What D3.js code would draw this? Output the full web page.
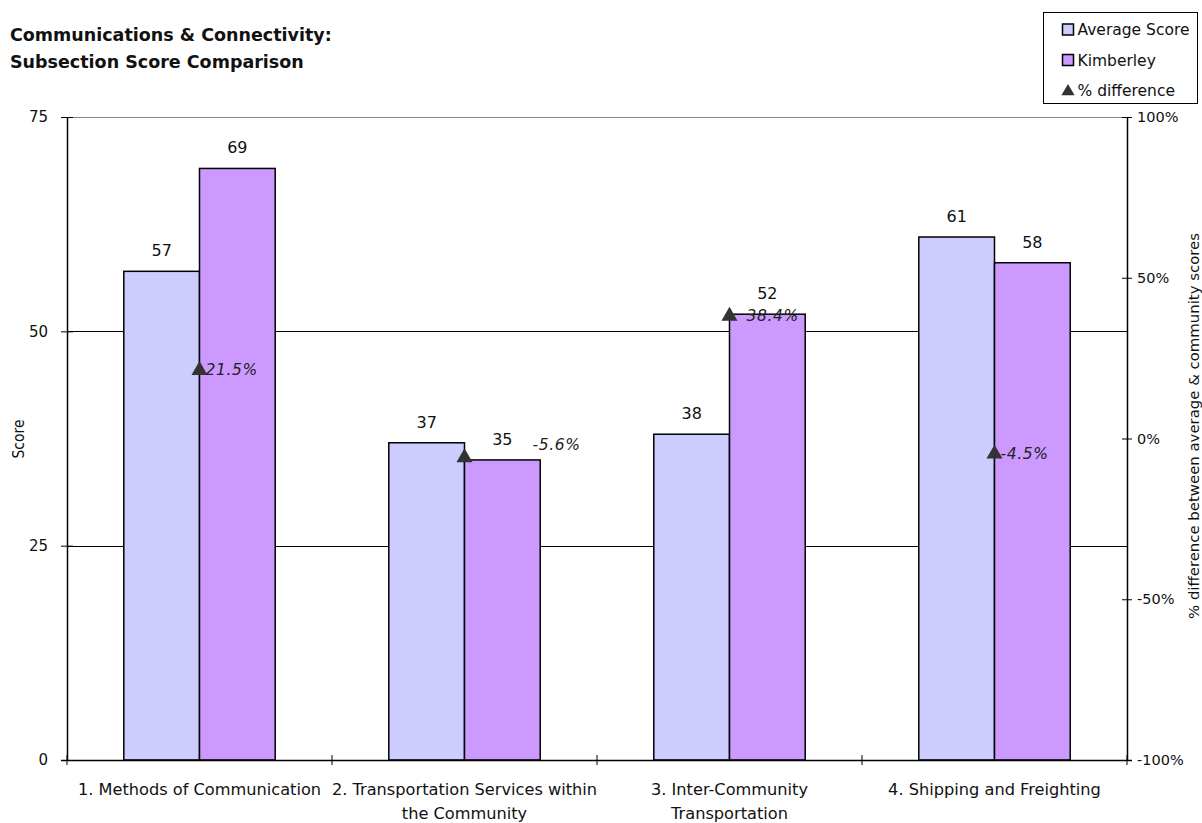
<!DOCTYPE html>
<html>
<head>
<meta charset="utf-8">
<script src="https://cdn.jsdelivr.net/npm/d3@7"></script>
<style>
  html, body { margin: 0; padding: 0; background: #fff; }
  svg { display: block; font-family: "DejaVu Sans", "Noto Sans", sans-serif; }
</style>
</head>
<body>
<svg id="chart" width="1202" height="823"></svg>
<script>
// ---- data ----
const categories = [
  "1. Methods of Communication",
  "2. Transportation Services within\nthe Community",
  "3. Inter-Community\nTransportation",
  "4. Shipping and Freighting"
];
const seriesNames = ["Average Score", "Kimberley"];
const averageScores = [57, 37, 38, 61];
const kimberleyScores = [69, 35, 52, 58];
const pctDifference = [21.5, -5.6, 38.4, -4.5];   // percent
const scoreTicks = [0, 25, 50, 75];
const pctTicks = [-1, -0.5, 0, 0.5, 1];
const titleLines = ["Communications & Connectivity:", "Subsection Score Comparison"];
const legendLabels = ["Average Score", "Kimberley", "% difference"];

// plain hyphen for negative numbers
const fmt = d3.formatLocale({ decimal: ".", thousands: ",", grouping: [3], currency: ["$", ""], minus: "-" });

// ---- layout ----
const plot = { left: 67, right: 1127, top: 117, bottom: 760 };
const svg = d3.select("#chart");

const x0 = d3.scaleBand().domain(categories).range([plot.left, plot.right]);
const x1 = d3.scaleBand().domain(seriesNames).range([0, x0.bandwidth()]).paddingOuter(0.75);
const y = d3.scaleLinear().domain([0, 75]).range([plot.bottom, plot.top]);
const y2 = d3.scaleLinear().domain([-1, 1]).range([plot.bottom, plot.top]);
const color = d3.scaleOrdinal().domain(seriesNames).range(["#ccccff", "#cc99ff"]);
const markerColor = "#333333";

// horizontal gridlines
svg.append("g").selectAll("line")
  .data(scoreTicks.filter(d => d > 0))
  .join("line")
  .attr("x1", plot.left).attr("x2", plot.right)
  .attr("y1", d => Math.round(y(d)) + 0.5).attr("y2", d => Math.round(y(d)) + 0.5)
  .attr("stroke", d => d === 75 ? "#888" : "#000")
  .attr("stroke-width", 1);

// bars
const rows = categories.map((c, i) => ({
  cat: c,
  values: [
    { s: seriesNames[0], v: averageScores[i] },
    { s: seriesNames[1], v: kimberleyScores[i] }
  ]
}));

const groups = svg.append("g").selectAll("g")
  .data(rows).join("g")
  .attr("transform", d => `translate(${x0(d.cat)},0)`);

groups.selectAll("rect")
  .data(d => d.values).join("rect")
  .attr("x", d => x1(d.s))
  .attr("y", d => y(d.v))
  .attr("width", x1.bandwidth())
  .attr("height", d => y(0) - y(d.v))
  .attr("fill", d => color(d.s))
  .attr("stroke", "#000")
  .attr("stroke-width", 1.5);

groups.selectAll("text.val")
  .data(d => d.values).join("text")
  .attr("class", "val")
  .attr("x", d => x1(d.s) + x1.bandwidth() / 2)
  .attr("y", d => y(d.v) - 15)
  .attr("text-anchor", "middle")
  .attr("font-size", 16)
  .attr("fill", "#111")
  .text(d => fmt.format(".0f")(d.v));

// left axis
const leftAxis = svg.append("g")
  .attr("transform", `translate(${plot.left},0)`)
  .call(d3.axisLeft(y).tickValues(scoreTicks).tickSize(6).tickSizeOuter(0).tickPadding(13));
leftAxis.selectAll(".tick line").attr("x1", 6);
leftAxis.selectAll("text").attr("font-size", 15).attr("fill", "#111").attr("font-family", "DejaVu Sans");
leftAxis.select(".domain").attr("stroke", "#000").attr("stroke-width", 1.5);

// right axis
const rightAxis = svg.append("g")
  .attr("transform", `translate(${plot.right},0)`)
  .call(d3.axisRight(y2).tickValues(pctTicks).tickFormat(fmt.format(".0%")).tickSize(5).tickSizeOuter(0).tickPadding(5));
rightAxis.selectAll(".tick line").attr("x1", -5);
rightAxis.selectAll("text").attr("font-size", 14.5).attr("fill", "#111").attr("font-family", "DejaVu Sans");
rightAxis.select(".domain").attr("stroke", "#000").attr("stroke-width", 1.5);

// category axis
const xAxis = svg.append("g");
xAxis.append("line")
  .attr("x1", plot.left - 6).attr("x2", plot.right + 5)
  .attr("y1", plot.bottom + 0.5).attr("y2", plot.bottom + 0.5)
  .attr("stroke", "#000").attr("stroke-width", 1.5);
xAxis.selectAll("line.tk")
  .data(categories.map(c => x0(c)).concat([plot.right]))
  .join("line").attr("class", "tk")
  .attr("x1", d => d).attr("x2", d => d)
  .attr("y1", plot.bottom - 5).attr("y2", plot.bottom + 5)
  .attr("stroke", "#000");

// category labels, one tspan per line
xAxis.selectAll("text.cat")
  .data(categories).join("text")
  .attr("class", "cat")
  .attr("text-anchor", "middle")
  .attr("font-size", 16.2)
  .attr("fill", "#111")
  .attr("y", plot.bottom + 35)
  .each(function (d) {
    const cx = x0(d) + x0.bandwidth() / 2;
    d3.select(this).selectAll("tspan")
      .data(d.split("\n")).join("tspan")
      .attr("x", cx)
      .attr("dy", (l, i) => i === 0 ? 0 : 24)
      .text(l => l);
  });

// % difference markers
const labelNudge = [[0, 0], [62, -13], [11, 0], [0, 0]];
const markers = svg.append("g");
markers.selectAll("path")
  .data(pctDifference).join("path")
  .attr("d", d3.symbol().type(d3.symbolTriangle).size(112))
  .attr("transform", (d, i) => `translate(${x0(categories[i]) + x0.bandwidth() / 2},${y2(d / 100) + 1})`)
  .attr("fill", markerColor);
markers.selectAll("text")
  .data(pctDifference).join("text")
  .attr("x", (d, i) => x0(categories[i]) + x0.bandwidth() / 2 + 6 + labelNudge[i][0])
  .attr("y", (d, i) => y2(d / 100) + 6 + labelNudge[i][1])
  .attr("font-size", 15.5)
  .attr("letter-spacing", 0.6)
  .attr("font-style", "italic")
  .attr("fill", "#222")
  .text(d => fmt.format(".1f")(d) + "%");

// axis titles
svg.append("text")
  .attr("transform", `translate(24,439) rotate(-90)`)
  .attr("text-anchor", "middle")
  .attr("font-size", 15.5)
  .attr("font-family", "DejaVu Sans Condensed, DejaVu Sans")
  .attr("fill", "#111")
  .text("Score");

svg.append("text")
  .attr("transform", `translate(1199,426) rotate(-90)`)
  .attr("text-anchor", "middle")
  .attr("font-size", 14.9)
  .attr("fill", "#111")
  .text("% difference between average & community scores");

// title
svg.append("g").selectAll("text")
  .data(titleLines).join("text")
  .attr("x", 10)
  .attr("y", (d, i) => 41 + i * 27)
  .attr("font-size", 17.5)
  .attr("font-weight", "bold")
  .attr("fill", "#111")
  .text(d => d);

// legend
const legend = svg.append("g");
legend.append("rect")
  .attr("x", 1043.5).attr("y", 12.5).attr("width", 154).attr("height", 91)
  .attr("fill", "#fff").attr("stroke", "#000").attr("stroke-width", 1);
const legendItems = legend.selectAll("g.item")
  .data(legendLabels).join("g").attr("class", "item")
  .attr("transform", (d, i) => `translate(1062,${29.5 + i * 30.5})`);
legendItems.filter((d, i) => i < 2).append("rect")
  .attr("x", 0.5).attr("y", -5.5).attr("width", 11).attr("height", 11)
  .attr("fill", (d, i) => color(seriesNames[i]))
  .attr("stroke", "#000").attr("stroke-width", 1.5);
legendItems.filter((d, i) => i === 2).append("path")
  .attr("d", d3.symbol().type(d3.symbolTriangle).size(75))
  .attr("transform", "translate(6,1)")
  .attr("fill", markerColor);
legendItems.append("text")
  .attr("x", 15.5).attr("y", 5.5)
  .attr("font-size", 15.5)
  .attr("fill", "#111")
  .text(d => d);
</script>
</body>
</html>
